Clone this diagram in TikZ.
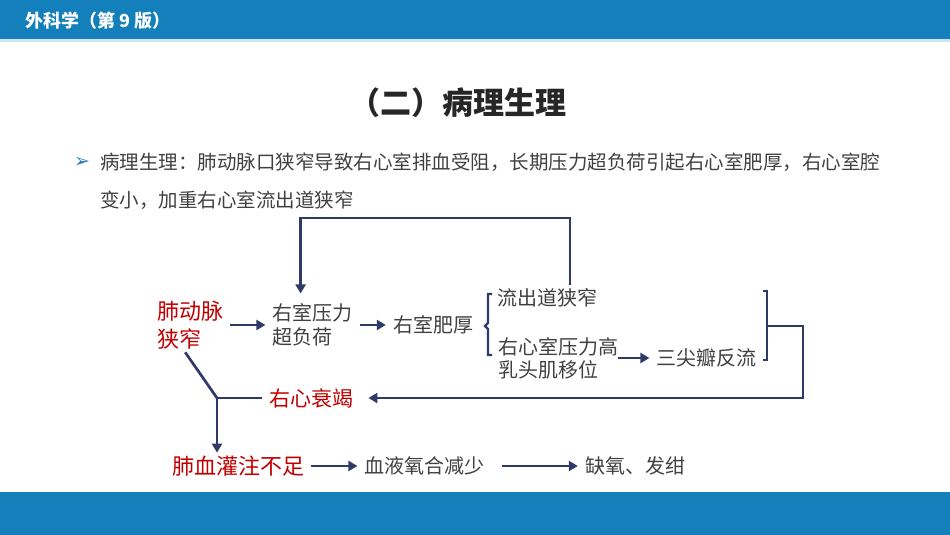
\documentclass[tikz,border=0pt]{standalone}
\usepackage{fontspec}
\setmainfont{Noto Sans CJK SC}
\newfontfamily\dingfont{DejaVu Sans}
\usepackage{tikz}
\usetikzlibrary{
    arrows.meta,
    positioning,
    calc
}
\definecolor{BarBlue}{RGB}{19,127,187}
\definecolor{BarLight}{RGB}{205,228,242}
\definecolor{LineNavy}{RGB}{47,58,104}
\definecolor{TextGray}{RGB}{64,64,64}
\definecolor{DeepRed}{RGB}{192,0,0}
\definecolor{BulletBlue}{RGB}{40,120,190}
\tikzset{
  gtext/.style = {text=TextGray, inner xsep=7pt, inner ysep=3pt, align=left,
                  font=\fontsize{20}{24}\selectfont},
  rtext/.style = {text=DeepRed, inner xsep=7pt, inner ysep=3pt, align=left,
                  font=\fontsize{22}{28}\selectfont},
  arr/.style   = {-{Triangle[length=9pt,width=10pt]}, line width=2.7pt, LineNavy},
  link/.style  = {line width=2.7pt, LineNavy}
}
\begin{document}
\begin{tikzpicture}[x=1pt, y=-1pt]
\useasboundingbox (0,0) rectangle (950,535);
% header and footer bars
\fill[BarBlue] (0,0) rectangle (950,39);
\fill[BarLight] (0,39) rectangle (950,42);
\fill[BarBlue] (0,492) rectangle (950,535);
\node[anchor=west, text=white, font=\fontsize{18}{20}\selectfont\bfseries] (head) at (22,21) {外科学（第 9 版）};

\node[text=black!85, font=\fontsize{31}{36}\selectfont\bfseries] (title) at (458,103) {（二）病理生理};
\node[anchor=west, inner sep=0pt, align=left, text=TextGray, font=\fontsize{19.5}{38}\selectfont] (intro) at (100,181)
    {病理生理：肺动脉口狭窄导致右心室排血受阻，长期压力超负荷引起右心室肥厚，右心室腔\\变小，加重右心室流出道狭窄};
\node[text=BulletBlue, font=\dingfont\fontsize{19}{19}\selectfont] (bullet) at (82,162) {➢};

% flow chart
\node[rtext, anchor=west] (sten) at (150,325) {肺动脉\\狭窄};
\node[gtext, right=35pt of sten] (load) {右室压力\\超负荷};
\node[gtext, right=26pt of load] (hyp) {右室肥厚};
\node[gtext, anchor=west] (out) at (490,298) {流出道狭窄};
\node[gtext, anchor=west, font=\fontsize{20}{23}\selectfont] (press) at (491,358) {右心室压力高\\乳头肌移位};
\node[gtext, right=24pt of press] (tri) {三尖瓣反流};
\node[rtext, anchor=west, font=\fontsize{21}{26}\selectfont] (fail) at (262,398) {右心衰竭};
\node[rtext, anchor=west] (lack) at (165,466) {肺血灌注不足};
\node[gtext, right=46pt of lack] (blood) {血液氧合减少};
\node[gtext, right=86pt of blood] (hypo) {缺氧、发绀};

\draw[arr] (sten) -- (load);
\draw[arr] (load) -- (hyp);
\draw[arr] ([xshift=-7pt]press.east) -- (tri);
\draw[arr] (lack) -- (blood);
\draw[arr, shorten <=10pt] (blood) -- (hypo);

% braces
\draw[link, line width=2.4pt] (492,294) -- (488,294) -- (488,323) -- (485,326)
    -- (488,329) -- (488,355) -- (492,355);
\draw[link, line width=2.4pt] (763,291) -- (767,291) -- (767,360) -- (763,360);

% feedback loops
\coordinate (rbrace) at (767,326);
\coordinate (loopR) at (803,326);
\draw[arr] (rbrace) -- (loopR) |- ([xshift=8pt]fail.east);
\coordinate (loopT) at (570,218);
\draw[arr, shorten >=7pt] (loopT |- out.north) -- (loopT) -| ([xshift=-12pt]load.north);

\coordinate (jn) at (217,398);
\draw[link] ([xshift=-5pt]sten.south) -- (jn);
\draw[link] (jn) -- (jn -| fail.west);
\draw[arr] (jn) -- (jn |- lack.north);
\end{tikzpicture}
\end{document}
